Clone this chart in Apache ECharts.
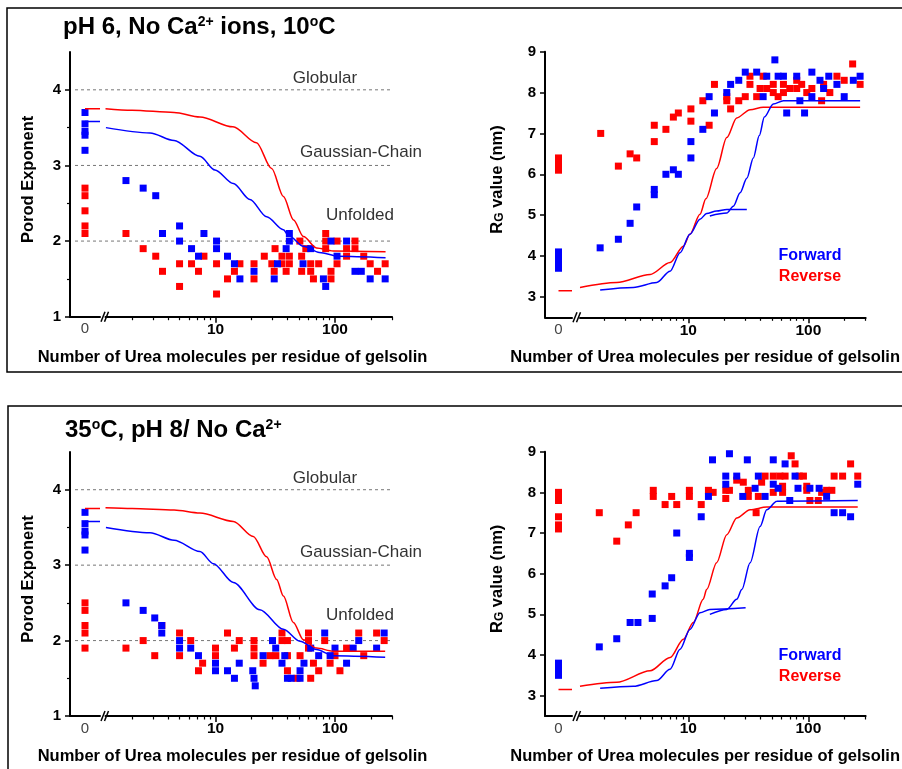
<!DOCTYPE html>
<html>
<head>
<meta charset="utf-8">
<script src="https://cdn.jsdelivr.net/npm/echarts@6/dist/echarts.min.js"></script>
<style>
  html, body { margin: 0; padding: 0; background: #fff; }
  #main { width: 902px; height: 769px; }
</style>
</head>
<body>
<div id="main"></div>
<script>
// ---- tick labels / reference levels ----
var logMajor = [10, 100];
var logMinor = [2, 3, 4, 5, 6, 7, 8, 9, 20, 30, 40, 50, 60, 70, 80, 90, 200, 300];
var porodTicks = [1, 2, 3, 4];
var porodMinor = [1.5, 2.5, 3.5];
var rgTicks = [3, 4, 5, 6, 7, 8, 9];
var porodRefs = [4, 3, 2];
var porodRefNames = ['Globular', 'Gaussian-Chain', 'Unfolded'];

// ---- pH 6, 10 C : Porod exponent ----
var porodFwdZero6 = [3.70, 3.55, 3.45, 3.40, 3.20];
var porodRevZero6 = [2.70, 2.60, 2.40, 2.20, 2.10];
var porodFwd6 = [[1.78,2.80],[2.48,2.70],[3.16,2.60],[3.6,2.10],[5.0,2.20],[5.0,2.00],[6.3,1.90],[7.2,1.80],[8.0,2.10],[10.2,2.00],[10.2,1.90],[12.6,1.80],[14.4,1.70],[16,1.50],[21,1.60],[31,1.50],[33,1.70],[39,1.90],[41.5,2.10],[41.5,2.00],[54,1.70],[62.6,1.90],[80,1.50],[83.6,1.40],[92.6,2.00],[104,1.80],[125,2.00],[147,1.60],[166,1.60],[197,1.50],[263,1.50]];
var porodRev6 = [[1.78,2.10],[2.48,1.90],[3.16,1.80],[3.6,1.60],[5.0,1.70],[5.0,1.40],[6.3,1.70],[7.2,1.60],[8.0,1.80],[10.2,1.70],[10.2,1.30],[12.6,1.50],[14.4,1.60],[16,1.70],[21,1.70],[21,1.50],[25.6,1.80],[29.6,1.70],[31,1.60],[31.5,1.90],[36,1.80],[36,1.70],[39,1.60],[41.5,1.80],[41.5,1.70],[50.8,2.00],[52.6,1.80],[52.6,1.60],[57,1.90],[62.6,1.70],[62.6,1.60],[66,1.50],[73,1.70],[83.6,2.10],[83.6,2.00],[83.6,1.90],[92.6,1.60],[92.6,1.50],[104,2.00],[104,1.70],[125,1.90],[125,1.80],[147,2.00],[147,1.90],[174,1.80],[197,1.70],[227,1.60],[263,1.70]];
var porodFitFwd6 = [[1.21,3.50],[2.83,3.43],[4.5,3.33],[7.4,3.12],[9.9,2.94],[14.1,2.76],[19.4,2.55],[26.8,2.32],[37,2.15],[41,2.07],[54.4,1.93],[74,1.85],[106,1.80],[265,1.78]];
var porodFitRev6 = [[1.2,3.75],[2.0,3.73],[4.5,3.70],[7.4,3.64],[14,3.51],[22,3.30],[29.5,2.96],[37,2.59],[45,2.28],[54.4,2.06],[70,1.91],[96.6,1.87],[265,1.86]];
var porodFitZero6 = { fwd: 3.58, rev: 3.75 };

// ---- pH 6, 10 C : Rg ----
var rgFwdZero6 = [4.1, 4.0, 3.9, 3.8, 3.7];
var rgRevZero6 = [6.4, 6.3, 6.2, 6.1];
var rgFwd6 = [[1.84,4.20],[2.61,4.41],[3.27,4.80],[3.71,5.20],[5.2,5.63],[5.2,5.50],[6.5,6.00],[7.5,6.11],[8.25,6.00],[10.5,6.80],[10.5,6.40],[13.2,7.10],[14.9,7.90],[16.5,7.50],[20.9,8.00],[22.5,8.20],[26.3,8.30],[29.8,8.50],[37.1,8.50],[42,7.90],[45,8.40],[52.6,8.80],[56,8.40],[62,8.40],[66,7.50],[80,8.40],[85,7.80],[93,7.50],[107,8.50],[107,7.90],[125,8.30],[134,8.10],[148,8.40],[173,8.20],[199,7.90],[237,8.30],[270,8.40]];
var rgRev6 = [[1.86,7.00],[2.61,6.20],[3.27,6.50],[3.71,6.40],[5.2,7.20],[5.2,6.80],[6.5,7.10],[7.5,7.40],[8.25,7.50],[10.5,7.60],[10.5,7.30],[13.2,7.80],[14.9,7.20],[16.5,8.20],[20.9,7.90],[20.9,7.80],[22.5,7.60],[26.3,7.80],[29.8,7.90],[32.6,8.40],[32.6,8.20],[37.1,7.90],[39.6,8.10],[42,8.40],[45,8.10],[51,8.20],[51,8.00],[56,7.90],[62,8.20],[62,8.00],[70,8.10],[80,8.30],[80,8.10],[88,8.20],[97,8.00],[107,8.10],[129,7.80],[134,8.20],[151,8.00],[173,8.40],[199,8.30],[234,8.70],[270,8.20]];
var rgFitFwd6a = [[1.84,3.17],[3.48,3.23],[5.45,3.35],[7.04,3.63],[8.53,4.08],[10.3,4.53],[12.5,4.90],[14.2,5.04],[17.2,5.10],[20.9,5.14],[30.7,5.14]];
var rgFitFwd6b = [[15.1,4.98],[20.9,5.05],[23.7,5.22],[27,5.55],[30.7,5.90],[34.8,6.40],[39,6.95],[43,7.40],[51,7.72],[62,7.80],[270,7.80]];
var rgFitRev6 = [[1.25,3.23],[2.53,3.35],[4.8,3.55],[7.04,3.84],[9.1,4.24],[10.3,4.53],[12.5,5.02],[14,5.40],[17.2,6.14],[20.9,6.90],[25.3,7.38],[32.7,7.58],[42,7.64],[270,7.64]];
var rgFitZero6 = { rev: 3.15 };

// ---- 35 C, pH 8 : Porod exponent ----
var porodFwdZero8 = [3.70, 3.55, 3.45, 3.40, 3.20];
var porodRevZero8 = [2.50, 2.40, 2.20, 2.10, 1.90];
var porodFwd8 = [[1.78,2.50],[2.48,2.40],[3.1,2.30],[3.55,2.20],[3.55,2.10],[5.0,2.00],[5.0,1.90],[6.2,1.90],[7.2,1.80],[10,1.70],[10,1.60],[12.6,1.60],[14.4,1.50],[15.8,1.70],[20.5,1.60],[21,1.50],[21.5,1.40],[25,1.80],[30,2.00],[31.9,1.90],[36,1.70],[38,1.80],[40,1.50],[43,1.50],[51,1.60],[51,1.50],[55,1.70],[62.6,1.90],[73,1.80],[82,2.10],[91,1.80],[100,1.90],[125,1.70],[142,1.90],[158,2.00],[223,1.90],[258,2.10]];
var porodRev8 = [[1.78,1.90],[2.48,2.00],[3.1,1.80],[3.55,2.20],[5.0,2.10],[5.0,1.80],[6.2,2.00],[7.2,1.60],[7.8,1.70],[10,1.90],[10,1.80],[12.6,2.10],[14.4,1.90],[15.8,2.00],[21,2.00],[21,1.90],[21,1.80],[25,1.70],[28.5,1.80],[32,1.80],[36,2.10],[36,2.00],[40,2.00],[40,1.80],[40,1.60],[48,1.50],[51,1.80],[60,2.10],[60,2.00],[60,1.90],[62.6,1.50],[66,1.70],[73,1.60],[82,2.00],[91,1.70],[100,1.80],[110,1.60],[125,1.90],[158,2.10],[174,1.80],[223,2.10],[258,2.00]];
var porodFitFwd8 = [[1.21,3.50],[2.83,3.43],[4.5,3.33],[7.4,3.18],[9.6,3.02],[14.1,2.77],[23.5,2.41],[37,2.15],[50.9,1.99],[70,1.88],[96.6,1.80],[263,1.78]];
var porodFitRev8 = [[1.2,3.76],[2.0,3.75],[4.5,3.73],[7.4,3.69],[14.1,3.58],[20.7,3.38],[26.8,3.11],[32.5,2.81],[37,2.59],[44.8,2.24],[54.4,2.01],[70,1.90],[96.6,1.86],[263,1.86]];
var porodFitZero8 = { fwd: 3.58, rev: 3.75 };

// ---- 35 C, pH 8 : Rg ----
var rgFwdZero8 = [3.8, 3.7, 3.6, 3.5];
var rgRevZero8 = [8.0, 7.9, 7.8, 7.4, 7.2, 7.1];
var rgFwd8 = [[1.81,4.20],[2.53,4.40],[3.27,4.80],[3.8,4.80],[5.0,5.50],[5.0,4.90],[6.4,5.70],[7.26,5.90],[8.0,7.00],[10.2,6.50],[10.2,6.40],[12.8,7.40],[14.7,7.90],[15.9,8.80],[20.5,8.40],[20.5,8.20],[22,8.95],[25.3,8.40],[28.4,7.90],[31,8.80],[36,8.10],[38.3,8.40],[43.6,7.90],[51,8.80],[51,8.20],[56,8.10],[64,8.70],[70,7.80],[77.5,8.40],[82,8.10],[103,8.10],[123,8.10],[142,7.90],[164,7.50],[193,7.50],[225,7.40],[258,8.20]];
var rgRev8 = [[1.81,7.50],[2.53,6.80],[3.16,7.20],[3.67,7.50],[5.1,8.05],[5.1,7.90],[6.4,7.70],[7.26,7.90],[8.0,7.70],[10.2,8.05],[10.2,7.90],[12.8,7.70],[14.7,8.05],[16.1,8.00],[20.5,8.05],[20.5,7.85],[22,8.05],[25.3,8.30],[28.7,8.25],[31.6,8.05],[31.6,7.90],[36.7,7.50],[38.3,7.90],[40.8,8.25],[43.6,8.40],[51,8.40],[51,8.00],[58,8.40],[61,8.15],[61,8.00],[64,8.40],[72,8.90],[77.5,8.70],[84,8.40],[91,8.40],[97,8.15],[97,8.05],[103,7.80],[121,7.80],[129,8.00],[142,8.05],[157,8.05],[164,8.40],[193,8.40],[225,8.70],[258,8.40]];
var rgFitFwd8a = [[1.84,3.18],[3.48,3.23],[5.45,3.37],[7.04,3.65],[8.53,4.14],[10.3,4.63],[12.5,5.04],[15.1,5.12],[30,5.16]];
var rgFitFwd8b = [[15.1,5.00],[20.9,5.12],[25.3,5.37],[27.9,5.61],[32.7,6.27],[39.6,7.16],[45,7.57],[54.6,7.78],[258,7.80]];
var rgFitRev8 = [[1.25,3.23],[2.53,3.33],[4.8,3.61],[7.04,3.94],[9.1,4.39],[11,4.80],[13.3,5.37],[14.2,5.61],[17.2,6.27],[20.9,6.96],[25.3,7.37],[32.7,7.57],[45,7.64],[258,7.64]];
var rgFitZero8 = { rev: 3.15 };

var FONT = '"Liberation Sans", Arial, sans-serif';
var BLUE = '#0000ff', RED = '#ff0000';
var XNAME = 'Number of Urea molecules per residue of gelsolin';

var grid = [], xAxis = [], yAxis = [], series = [], graphic = [];

function sq(xi, yi, data, color) {
    return { type: 'scatter', xAxisIndex: xi, yAxisIndex: yi, data: data, symbol: 'rect',
        symbolSize: 7, itemStyle: { color: color, opacity: 1 }, z: 3, silent: true };
}
function fit(xi, yi, data, color) {
    return { type: 'line', xAxisIndex: xi, yAxisIndex: yi, data: data, smooth: 0.3, smoothMonotone: 'x',
        showSymbol: false, symbol: 'none', lineStyle: { color: color, width: 1.5 }, z: 4, silent: true };
}
function atZero(vals) {
    return vals.map(function (v) { return [0, v]; });
}

function panel(o) {
    var g = grid.length, xi = xAxis.length, yi = yAxis.length;
    var axisLine = { onZero: false, lineStyle: { color: '#000', width: 2 } };
    grid.push({ left: o.left, top: o.top, width: o.zeroW, height: o.h });
    grid.push({ left: o.logL, top: o.top, width: o.logW, height: o.h });
    grid.push({ left: o.ovL, top: o.top, width: o.ovW, height: o.h });

    // x: the "0" stub, log axis (major + minor ticks), overlay carrying the name
    xAxis.push({ gridIndex: g, type: 'value', min: -1, max: 1, axisLine: axisLine,
        axisTick: { show: false }, splitLine: { show: false },
        axisLabel: { customValues: [0], color: '#444', fontSize: 15, fontFamily: FONT, margin: 5 } });
    xAxis.push({ gridIndex: g + 1, type: 'log', min: o.logMin, max: 300, position: 'bottom', axisLine: axisLine,
        axisTick: { customValues: logMajor, length: 6, lineStyle: { color: '#000', width: 1.5 } },
        splitLine: { show: false },
        axisLabel: { customValues: logMajor, color: '#000', fontSize: 15.5, fontWeight: 'bold', fontFamily: FONT, margin: 5 } });
    xAxis.push({ gridIndex: g + 1, type: 'log', min: o.logMin, max: 300, position: 'bottom', axisLine: { show: false },
        axisTick: { customValues: logMinor, length: 3.5, lineStyle: { color: '#000', width: 1.2 } },
        splitLine: { show: false }, axisLabel: { show: false } });
    xAxis.push({ gridIndex: g + 2, type: 'value', min: 0, max: 1, position: 'bottom',
        axisLine: { show: false }, axisTick: { show: false }, axisLabel: { show: false }, splitLine: { show: false },
        name: XNAME, nameLocation: 'middle', nameGap: 32,
        nameTextStyle: { color: '#000', fontSize: 16.5, fontWeight: 'bold', fontFamily: FONT } });

    yAxis.push({ gridIndex: g, type: 'value', min: o.ymin, max: o.ymax, position: 'left',
        axisLine: { show: true, onZero: false, lineStyle: { color: '#000', width: 2 } },
        axisTick: { customValues: o.yTicks, length: 5, lineStyle: { color: '#000', width: 1.5 } },
        axisLabel: { customValues: o.yTicks, color: '#000', fontSize: 15, fontWeight: 'bold', fontFamily: FONT, margin: 9 },
        splitLine: { show: false },
        name: o.yName, nameLocation: 'middle', nameGap: o.yGap,
        nameTextStyle: { color: '#000', fontSize: 16.5, fontWeight: 'bold', fontFamily: FONT, padding: [0, 0, 0, 10],
            rich: { sub: { fontSize: 12, fontWeight: 'bold', fontFamily: FONT, verticalAlign: 'bottom' } } } });
    yAxis.push({ gridIndex: g, type: 'value', min: o.ymin, max: o.ymax, position: 'left',
        axisLine: { show: false, onZero: false },
        axisTick: { show: !!o.yMinor, customValues: o.yMinor || [], length: 3, lineStyle: { color: '#000', width: 1.2 } },
        axisLabel: { show: false }, splitLine: { show: false } });
    yAxis.push({ gridIndex: g + 1, type: 'value', min: o.ymin, max: o.ymax, show: false });
    yAxis.push({ gridIndex: g + 2, type: 'value', min: o.ymin, max: o.ymax, show: false });

    var zx = xi, lx = xi + 1, ox = xi + 3, zy = yi, ly = yi + 2, oy = yi + 3;

    (o.refs || []).forEach(function (v) {
        series.push({ type: 'line', xAxisIndex: ox, yAxisIndex: oy, data: [[0, v], [1, v]], symbol: 'none',
            lineStyle: { color: '#777', width: 1, type: [3, 3] }, z: 1, silent: true });
    });

    series.push(sq(zx, zy, atZero(o.revZero), RED));
    series.push(sq(zx, zy, atZero(o.fwdZero), BLUE));
    series.push(sq(lx, ly, o.rev, RED));
    series.push(sq(lx, ly, o.fwd, BLUE));
    if (o.fitZero.rev != null) series.push(fit(zx, zy, [[0, o.fitZero.rev], [1, o.fitZero.rev]], RED));
    if (o.fitZero.fwd != null) series.push(fit(zx, zy, [[0, o.fitZero.fwd], [1, o.fitZero.fwd]], BLUE));
    o.fitsRev.forEach(function (d) { series.push(fit(lx, ly, d, RED)); });
    o.fitsFwd.forEach(function (d) { series.push(fit(lx, ly, d, BLUE)); });

    // axis break "//"
    var bx = o.left + o.zeroW + 1, by = o.top + o.h;
    [0, 3.5].forEach(function (dx) {
        graphic.push({ type: 'line', silent: true, z: 10,
            shape: { x1: bx + dx, y1: by + 5, x2: bx + dx + 4, y2: by - 5 },
            style: { stroke: '#000', lineWidth: 1.5 } });
    });
}

panel({ left: 70, zeroW: 30, logL: 105.5, logW: 286.5, ovL: 75, ovW: 315, top: 52, h: 264.7,
    ymin: 1, ymax: 4.5, yTicks: porodTicks, yMinor: porodMinor, logMin: 1.2,
    yName: 'Porod Exponent', yGap: 33, refs: porodRefs,
    fwdZero: porodFwdZero6, revZero: porodRevZero6, fwd: porodFwd6, rev: porodRev6,
    fitZero: porodFitZero6, fitsFwd: [porodFitFwd6], fitsRev: [porodFitRev6] });
panel({ left: 545, zeroW: 27, logL: 580, logW: 285.6, ovL: 545, ovW: 321, top: 51.7, h: 265.6,
    ymin: 2.5, ymax: 9, yTicks: rgTicks, logMin: 1.25,
    yName: 'R{sub|G} value (nm)', yGap: 39,
    fwdZero: rgFwdZero6, revZero: rgRevZero6, fwd: rgFwd6, rev: rgRev6,
    fitZero: rgFitZero6, fitsFwd: [rgFitFwd6a, rgFitFwd6b], fitsRev: [rgFitRev6] });
panel({ left: 70, zeroW: 30, logL: 105.5, logW: 286.5, ovL: 75, ovW: 315, top: 452, h: 264,
    ymin: 1, ymax: 4.5, yTicks: porodTicks, yMinor: porodMinor, logMin: 1.2,
    yName: 'Porod Exponent', yGap: 33, refs: porodRefs,
    fwdZero: porodFwdZero8, revZero: porodRevZero8, fwd: porodFwd8, rev: porodRev8,
    fitZero: porodFitZero8, fitsFwd: [porodFitFwd8], fitsRev: [porodFitRev8] });
panel({ left: 545, zeroW: 27, logL: 580, logW: 285.6, ovL: 545, ovW: 321, top: 451.7, h: 264.3,
    ymin: 2.5, ymax: 9, yTicks: rgTicks, logMin: 1.25,
    yName: 'R{sub|G} value (nm)', yGap: 39,
    fwdZero: rgFwdZero8, revZero: rgRevZero8, fwd: rgFwd8, rev: rgRev8,
    fitZero: rgFitZero8, fitsFwd: [rgFitFwd8a, rgFitFwd8b], fitsRev: [rgFitRev8] });

// frames
graphic.push({ type: 'rect', silent: true, shape: { x: 7, y: 8, width: 905, height: 364 },
    style: { fill: 'none', stroke: '#000', lineWidth: 1.5 } });
graphic.push({ type: 'rect', silent: true, shape: { x: 8, y: 406, width: 905, height: 400 },
    style: { fill: 'none', stroke: '#000', lineWidth: 1.5 } });

// regime labels + legend text
[0, 400].forEach(function (dy) {
    var pos = [[325, 78], [361, 152], [360, 215]];
    porodRefNames.forEach(function (t, i) {
        graphic.push({ type: 'text', silent: true, x: pos[i][0], y: pos[i][1] + dy,
            style: { text: t, font: '17px ' + FONT, fill: '#333', align: 'center', verticalAlign: 'middle' } });
    });
    graphic.push({ type: 'text', silent: true, x: 810, y: 256 + dy,
        style: { text: 'Forward', font: 'bold 16px ' + FONT, fill: BLUE, align: 'center', verticalAlign: 'middle' } });
    graphic.push({ type: 'text', silent: true, x: 810, y: 277 + dy,
        style: { text: 'Reverse', font: 'bold 16px ' + FONT, fill: RED, align: 'center', verticalAlign: 'middle' } });
});

var titleStyle = { color: '#000', fontSize: 24, fontWeight: 'bold', fontFamily: FONT,
    rich: { sup: { fontSize: 14, fontWeight: 'bold', fontFamily: FONT, color: '#000', verticalAlign: 'top' } } };

var myChart = echarts.init(document.getElementById('main'));
myChart.setOption({
    animation: false,
    backgroundColor: '#ffffff',
    title: [
        { text: 'pH 6, No Ca{sup|2+} ions, 10{sup|o}C', left: 63, top: 15, padding: 0, textStyle: titleStyle },
        { text: '35{sup|o}C, pH 8/ No Ca{sup|2+}', left: 65, top: 418, padding: 0, textStyle: titleStyle }
    ],
    grid: grid,
    xAxis: xAxis,
    yAxis: yAxis,
    series: series,
    graphic: graphic
});
</script>
</body>
</html>
